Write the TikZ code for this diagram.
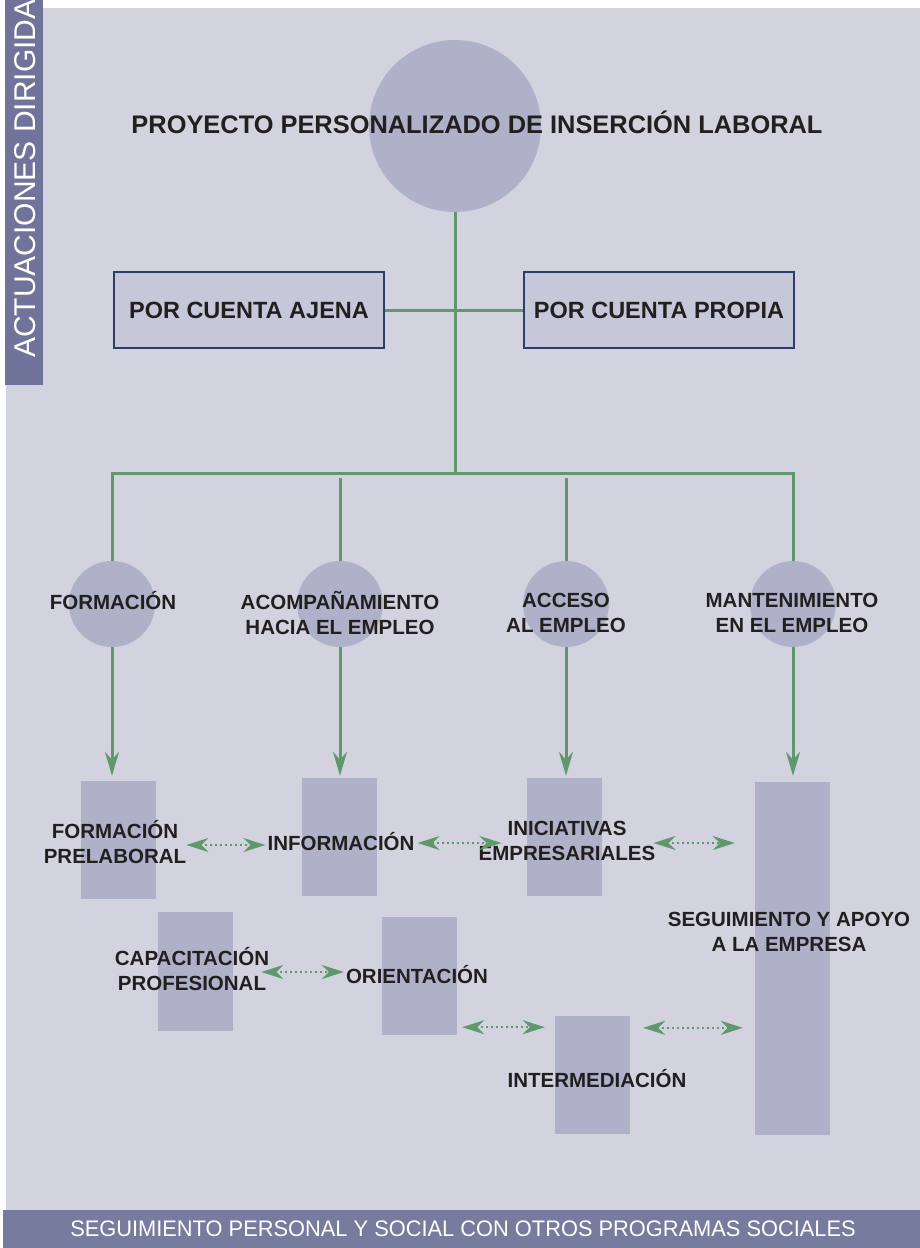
\documentclass[tikz,border=0pt]{standalone}
\usepackage{fontspec}
\setmainfont{Liberation Sans}
\usetikzlibrary{arrows.meta,positioning,calc}
\definecolor{fondo}{HTML}{D3D3DF}
\definecolor{malva}{HTML}{AFB1C9}
\definecolor{banda}{HTML}{70749A}
\definecolor{pieazul}{HTML}{777B9E}
\definecolor{verde}{HTML}{5F986C}
\definecolor{marco}{HTML}{2E3C6C}
\definecolor{caja}{HTML}{C6C7D9}
\definecolor{tinta}{HTML}{231F20}
\tikzset{
  meta/.style={circle,fill=malva,minimum size=172pt,inner sep=0pt},
  area/.style={circle,fill=malva,minimum size=86pt,inner sep=0pt},
  accion/.style={rectangle,fill=malva,minimum width=75pt,inner sep=0pt},
  etiqueta/.style={font=\bfseries\fontsize{20.5}{25}\selectfont,text=tinta,align=center,inner sep=0pt},
  titulo/.style={font=\bfseries\fontsize{25.4}{30}\selectfont,text=tinta,inner sep=0pt},
  cuenta/.style={draw=marco,line width=2pt,fill=caja,minimum width=270pt,minimum height=76pt,inner sep=0pt,
    font=\bfseries\fontsize{23.5}{28}\selectfont,text=tinta},
  pie/.style={fill=pieazul,minimum width=917pt,minimum height=38pt,inner sep=0pt,text=white,
    font=\fontsize{22.5}{26}\selectfont},
  rama/.style={draw=verde,line width=3pt},
  flujo/.style={-{Stealth[length=24pt,width=14pt,inset=8pt]},draw=verde,line width=3pt},
  enlace/.style={{Stealth[length=22pt,width=14pt,inset=7pt]}-{Stealth[length=22pt,width=14pt,inset=7pt]},
    draw=verde,line width=2.2pt,dash pattern=on 2pt off 3pt}
}
\begin{document}
\begin{tikzpicture}[x=1pt,y=-1pt]
  \useasboundingbox (0,0) rectangle (920,1248);
  \fill[white] (0,0) rectangle (920,1248);
  \fill[fondo] (6,8) rectangle (920,1210);
  \begin{scope}
    \clip (5,0) rectangle (43,385);
    \fill[banda] (5,0) rectangle (43,385);
    \node[rotate=90,anchor=base west,inner sep=0pt,text=white,font=\fontsize{30}{36}\selectfont]
      (lado) at (35,358) {ACTUACIONES DIRIGIDA};
  \end{scope}
  \node[pie] (pie) at (461.5,1229) {\hspace*{3pt}\scalebox{0.97}[1]{SEGUIMIENTO PERSONAL Y SOCIAL CON OTROS PROGRAMAS SOCIALES}};

  \node[meta] (meta) at (455,126) {};
  \node[titulo] (titulo) at (477,122) {PROYECTO PERSONALIZADO DE INSERCIÓN LABORAL};
  \node[cuenta] (ajena) at (249,310) {POR CUENTA AJENA};
  \node[cuenta] (propia) at (659,310) {POR CUENTA PROPIA};
  \coordinate (cruce) at (455,473);

  \node[area] (f) at (112,604) {};
  \node[area] (a) at (340,604) {};
  \node[area] (c) at (566,604) {};
  \node[area] (m) at (793,604) {};
  \node[etiqueta] (lf) at (113,601) {FORMACIÓN};
  \node[etiqueta] (la) at (340,613) {ACOMPAÑAMIENTO\\HACIA EL EMPLEO};
  \node[etiqueta] (lc) at (566,613) {ACCESO\\AL EMPLEO};
  \node[etiqueta] (lm) at (792,613) {MANTENIMIENTO\\EN EL EMPLEO};

  \node[accion,minimum height=118pt] (r1) at (118.5,840) {};
  \node[accion,minimum height=118pt] (r2) at (339.5,837) {};
  \node[accion,minimum height=118pt] (r3) at (564.5,837) {};
  \node[accion,minimum height=353pt] (r4) at (792.5,958.5) {};
  \node[accion,minimum height=119pt] (r5) at (195.5,971.5) {};
  \node[accion,minimum height=118pt] (r6) at (419.5,976) {};
  \node[accion,minimum height=118pt] (r7) at (592.5,1075) {};

  \node[etiqueta] (lprel) at (115,842) {FORMACIÓN\\PRELABORAL};
  \node[etiqueta] (linfo) at (341,842) {INFORMACIÓN};
  \node[etiqueta] (linic) at (567,841) {INICIATIVAS\\EMPRESARIALES};
  \node[etiqueta] (lseg) at (789,932) {SEGUIMIENTO Y APOYO\\A LA EMPRESA};
  \node[etiqueta] (lcap) at (192,969) {CAPACITACIÓN\\PROFESIONAL};
  \node[etiqueta] (lori) at (417,975) {ORIENTACIÓN};
  \node[etiqueta] (lint) at (597,1079) {INTERMEDIACIÓN};

  \draw[rama] (meta.south) -- (cruce);
  \draw[rama] (ajena) -- (propia);
  \draw[rama] (f.north) -- (f.north |- cruce) -- (m.north |- cruce) -- (m.north);
  \draw[rama] (a.north) -- ($(a.north |- cruce)+(0,5)$);
  \draw[rama] (c.north) -- ($(c.north |- cruce)+(0,5)$);

  \draw[flujo,shorten >=5pt] (f.south) -- (f.south |- r1.north);
  \draw[flujo,shorten >=2pt] (a.south) -- (a.south |- r2.north);
  \draw[flujo,shorten >=2pt] (c.south) -- (c.south |- r3.north);
  \draw[flujo,shorten >=6pt] (m.south) -- (m.south |- r4.north);

  \draw[enlace] ($(lprel.east)+(0,3)$) -- ($(linfo.west)+(-2,3)$);
  \draw[enlace] ($(linfo.east)+(3,1)$) -- ($(linic.west)+(23,2)$);
  \draw[enlace] ($(linic.east)+(-2,2)$) -- ($(r4.west |- linic)+(-20,2)$);
  \draw[enlace] ($(lcap.east)+(-8,3)$) -- ($(lori.west)+(-2,-3)$);
  \draw[enlace] ($(r6.south east)+(5,-8)$) -- ($(r7.west |- r6.south)+(-10,-8)$);
  \draw[enlace] ($(r7.north east)+(13,12)$) -- ($(r4.west |- r7.north)+(-12,12)$);
\end{tikzpicture}
\end{document}
